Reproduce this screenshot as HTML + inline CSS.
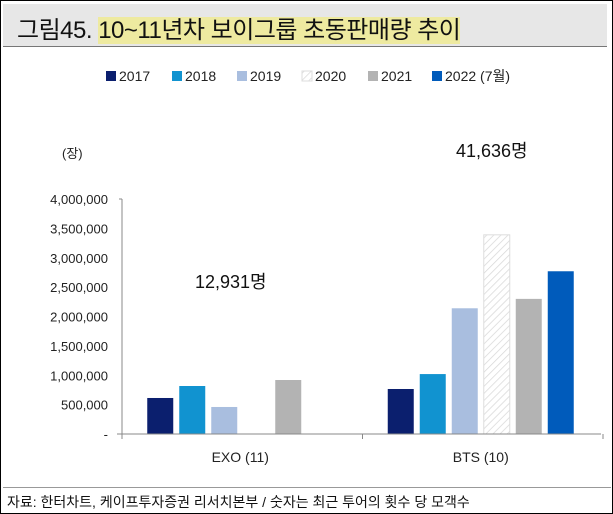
<!DOCTYPE html>
<html><head><meta charset="utf-8"><style>
body{margin:0;width:613px;height:514px;overflow:hidden;background:#fff;font-family:"Liberation Sans","Noto Sans CJK KR",sans-serif;}
#frame{position:absolute;left:0;top:0;width:611px;height:512px;border:1px solid #000;}
#title{position:absolute;left:3px;top:4px;width:604px;height:42px;background:#e7e7e7;border-bottom:1px solid #777;}
#title span{position:absolute;left:14px;top:6px;font-size:24px;color:#111;letter-spacing:-0.5px;}
#title em{font-style:normal;background:#eeeaa0;}
#foot{position:absolute;left:3px;top:487px;width:604px;border-top:1px solid #999;font-size:14px;color:#111;padding:4px 0 0 4px;}
svg text{font-family:"Liberation Sans","Noto Sans CJK KR",sans-serif;}
</style></head><body>
<div id="frame"></div>
<div id="title"><span>그림45. <em>10~11년차 보이그룹 초동판매량 추이</em></span></div>
<svg id="chart" width="613" height="514" style="position:absolute;left:0;top:0">
<defs><pattern id="hatch" width="5" height="5" patternUnits="userSpaceOnUse" patternTransform="rotate(45)"><rect width="5" height="5" fill="#fff"/><line x1="0" y1="0" x2="0" y2="5" stroke="#d8d8d8" stroke-width="1.5"/></pattern></defs>
</svg>
<div id="foot">자료: 한터차트, 케이프투자증권 리서치본부 / 숫자는 최근 투어의 횟수 당 모객수</div>
<script>
const categories=["EXO (11)","BTS (10)"];
const seriesNames=["2017","2018","2019","2020","2021","2022 (7월)"];
const exoValues=[613000,817000,460000,null,919000,null];
const btsValues=[766000,1020000,2140000,3390000,2300000,2770000];
const yTicks=[0,500000,1000000,1500000,2000000,2500000,3000000,3500000,4000000];
const tourLabels=["12,931명","41,636명"];
const colors=["#0b1f6e","#1193d0","#a9bedf","url(#hatch)","#b3b3b3","#005bbb"];
const svg=document.getElementById('chart');
const NS="http://www.w3.org/2000/svg";
function mk(t,a){const e=document.createElementNS(NS,t);for(const k in a)e.setAttribute(k,a[k]);svg.appendChild(e);return e;}
const y0=434,yTop=199,yMax=4000000;
function y(v){return y0-(v/yMax)*(y0-yTop);}
const xL=120,xR=601,gW=(xR-xL)/categories.length;
function slotX(g,i){const step=32,bw=26;const c=xL+gW*(g+0.5);return c-(6*step-6)/2+i*step;}
// y ticks
yTicks.forEach(v=>{const t=mk('text',{x:108,y:y(v)+5,'text-anchor':'end','font-size':13,fill:'#222'});t.textContent=v===0?'-':v.toLocaleString('en-US');
});
const yl=mk('text',{x:62,y:158,'font-size':13,fill:'#222'});yl.textContent='(장)';

const ya=mk('line',{x1:122,y1:y(yMax),x2:122,y2:y0,stroke:'#888'});
mk('line',{x1:119,y1:y(yMax),x2:122,y2:y(yMax),stroke:'#888'});
[exoValues,btsValues].forEach((vals,g)=>{vals.forEach((v,i)=>{if(v==null)return;const x=slotX(g,i);
const r=mk('rect',{x:x,y:y(v),width:26,height:y0-y(v),fill:colors[i]});if(i===3){r.setAttribute('stroke','#ddd');}
});
const ct=mk('text',{x:xL+gW*(g+0.5),y:462,'text-anchor':'middle','font-size':14,fill:'#222'});ct.textContent=categories[g];
});
const xa=mk('line',{x1:117,y1:y0,x2:xR,y2:y0,stroke:'#888'});
[0,1,2].forEach(k=>mk('line',{x1:xL+gW*k+2,y1:y0,x2:xL+gW*k+2,y2:y0+5,stroke:'#888'}));
const a1=mk('text',{x:195,y:288,'font-size':18,fill:'#111'});a1.textContent=tourLabels[0];
const a2=mk('text',{x:456,y:157,'font-size':18,fill:'#111'});a2.textContent=tourLabels[1];
// legend
const lx=[106,172,237,302,368,432];
seriesNames.forEach((n,i)=>{const r=mk('rect',{x:lx[i],y:71,width:10,height:10,fill:colors[i]});if(i===3)r.setAttribute('stroke','#ddd');

const t=mk('text',{x:lx[i]+13,y:81,'font-size':14,fill:'#222'});t.textContent=n;
});
</script>
</body></html>
